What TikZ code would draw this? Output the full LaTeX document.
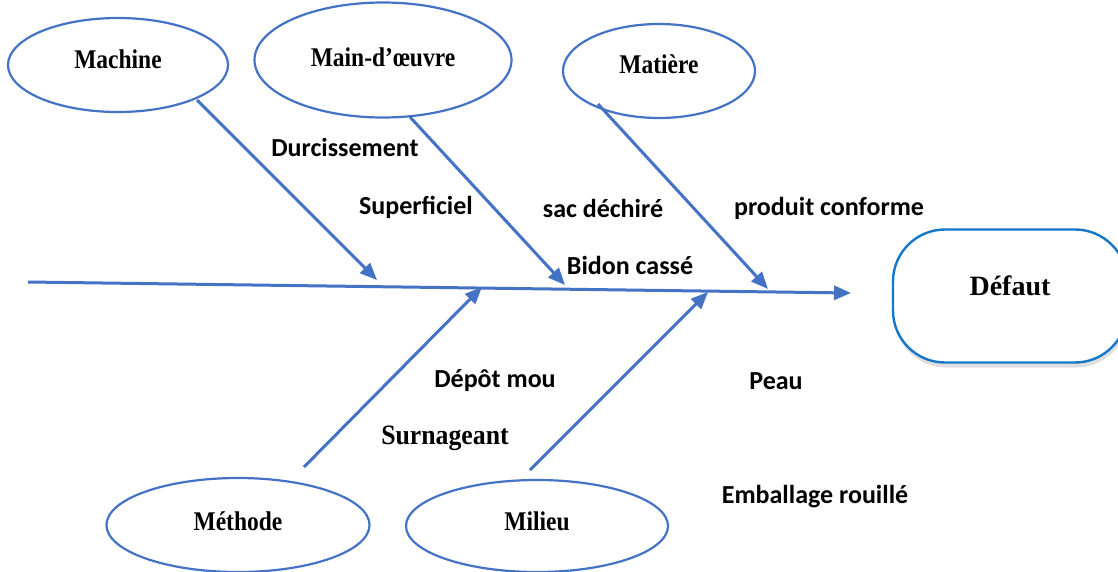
\documentclass[tikz,border=0pt]{standalone}
\usepackage{fontspec}
\setmainfont{Liberation Serif}
\newfontfamily\calfont{Carlito}
\usetikzlibrary{shapes.geometric,arrows.meta,shadows}
\definecolor{branchblue}{HTML}{4472C4}
\definecolor{effectblue}{HTML}{1477C8}
% narrow serif label, shifted up by #1
\newcommand{\causetext}[2]{\raisebox{#1}[\height][\depth]{\scalebox{0.87}[1]{#2}}}
\tikzset{
  cause/.style={ellipse, draw=branchblue, line width=2.2pt, fill=white,
    font=\fontsize{27}{30}\selectfont\bfseries, inner sep=0pt},
  bone/.style={draw=branchblue, line width=3pt,
    -{Triangle[length=17pt,width=14pt]}},
  note/.style={font=\calfont\fontsize{26}{30}\selectfont\bfseries, inner sep=0pt},
  effect/.style={draw=effectblue, line width=2.4pt, fill=white,
    rounded corners=52pt, minimum width=234pt, minimum height=133pt,
    font=\fontsize{28}{31}\selectfont\bfseries,
    drop shadow={opacity=0.25, shadow xshift=1pt, shadow yshift=-5pt}}
}
\begin{document}
\begin{tikzpicture}[x=1pt,y=-1pt]
\clip (0,0) rectangle (1118,571);
\fill[white] (0,0) rectangle (1118,571);

% effect box
\node[effect] (defaut) at (1010,296) {\raisebox{10pt}[\height][\depth]{Défaut}};

% main spine
\coordinate (s0) at (28,282);
\coordinate (s1) at (851,293);
\draw[bone] (s0) -- (s1);

% cause ellipses
\node[cause, minimum width=220pt, minimum height=94pt] (machine) at (118,65) {\causetext{6pt}{Machine}};
\node[cause, minimum width=257pt, minimum height=115pt] (mainoeuvre) at (383,60) {\causetext{3pt}{Main-d’œuvre}};
\node[cause, minimum width=192pt, minimum height=94pt] (matiere) at (659,71) {\causetext{7pt}{Matière}};
\node[cause, minimum width=263pt, minimum height=94pt] (methode) at (238,525) {\causetext{4pt}{Méthode}};
\node[cause, minimum width=262pt, minimum height=92pt] (milieu) at (537,526) {\causetext{5pt}{Milieu}};

% branch start points on the ellipses and tips on the spine
\coordinate (b1) at (197,100);  \coordinate (t1) at (377,280);
\coordinate (b2) at (410,117);  \coordinate (t2) at (565,285);
\coordinate (b3) at (598,104);  \coordinate (t3) at (768,289);
\coordinate (b4) at (304,467);  \coordinate (t4) at (482,287);
\coordinate (b5) at (530,470);  \coordinate (t5) at (708,292);

\draw[bone] (b1) -- (t1);
\draw[bone] (b2) -- (t2);
\draw[bone] (b3) -- (t3);
\draw[bone] (b4) -- (t4);
\draw[bone] (b5) -- (t5);

% sub-causes
\node[note] (n1) at (345,147) {Durcissement};
\node[note] (n2) at (416,207) {Superficiel};
\node[note] (n3) at (603,208) {sac déchiré};
\node[note] (n4) at (829,208) {produit conforme};
\node[note] (n5) at (630,265) {Bidon cassé};
\node[note] (n6) at (495,381) {Dépôt mou};
\node[note] (n7) at (776,381) {Peau};
\node[inner sep=0pt, font=\fontsize{28}{31}\selectfont\bfseries] (n8) at (445,438) {\scalebox{0.92}[1]{Surnageant}};
\node[note] (n9) at (815,497) {Emballage rouillé};
\end{tikzpicture}
\end{document}
